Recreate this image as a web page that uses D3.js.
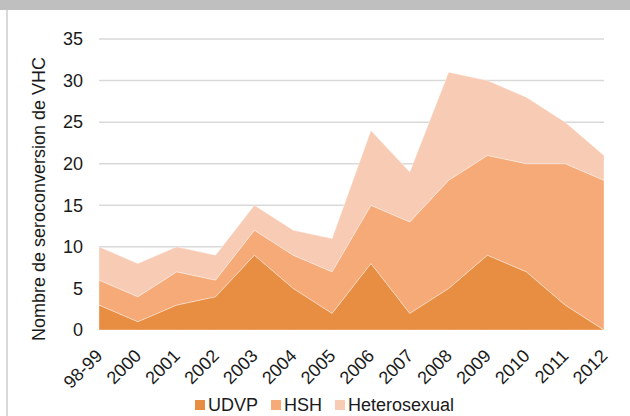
<!DOCTYPE html>
<html>
<head>
<meta charset="utf-8">
<script src="https://cdn.jsdelivr.net/npm/d3@7"></script>
<style>
  html, body { margin: 0; padding: 0; background: #fff; }
  svg { display: block; font-family: "Liberation Sans", Arial, sans-serif; }
</style>
</head>
<body>
<svg id="chart" width="630" height="416"></svg>
<script>
// Séroconversions VHC par mode de transmission
const categories = ["98-99", "2000", "2001", "2002", "2003", "2004", "2005", "2006", "2007", "2008", "2009", "2010", "2011", "2012"];
const udvp   = [3, 1, 3, 4, 9, 5, 2, 8, 2, 5, 9, 7, 3, 0];
const hsh    = [3, 3, 4, 2, 3, 4, 5, 7, 11, 13, 12, 13, 17, 18];
const hetero = [4, 4, 3, 3, 3, 3, 4, 9, 6, 13, 9, 8, 5, 3];
const seriesNames = ["UDVP", "HSH", "Heterosexual"];
const seriesColors = ["#E88E42", "#F6AA78", "#F8CBB5"];
const yTicks = [0, 5, 10, 15, 20, 25, 30, 35];

const svg = d3.select("#chart");
const W = 630, H = 416;
const plot = { left: 99, right: 604, top: 39, bottom: 330 };

// frame: grey band on top, thin rule on the left
svg.append("rect").attr("x", 0).attr("y", 0).attr("width", W).attr("height", 10).attr("fill", "#BFBFBF");
svg.append("rect").attr("x", 6).attr("y", 10).attr("width", 2).attr("height", H - 10).attr("fill", "#D9D9D9");

const x = d3.scalePoint().domain(categories).range([plot.left, plot.right]);
const y = d3.scaleLinear().domain([0, 35]).range([plot.bottom, plot.top]);

// horizontal gridlines
svg.append("g").selectAll("line").data(yTicks.filter(d => d > 0)).join("line")
  .attr("x1", plot.left).attr("x2", plot.right)
  .attr("y1", d => y(d)).attr("y2", d => y(d))
  .attr("stroke", "#D9D9D9").attr("stroke-width", 1.5);

// stacked areas
const rows = categories.map((c, i) => ({ cat: c, UDVP: udvp[i], HSH: hsh[i], Heterosexual: hetero[i] }));
const stacked = d3.stack().keys(seriesNames)(rows);
const area = d3.area()
  .x(d => x(d.data.cat))
  .y0(d => y(d[0]))
  .y1(d => y(d[1]));

svg.append("g").selectAll("path").data(stacked).join("path")
  .attr("d", area)
  .attr("fill", (d, i) => seriesColors[i])
  .attr("stroke", "#ffffff").attr("stroke-opacity", 0.35).attr("stroke-width", 1)
  .attr("stroke-linejoin", "round");

// y axis labels
const yAxis = d3.axisLeft(y).tickValues(yTicks).tickSize(0).tickPadding(16);
const gy = svg.append("g").attr("transform", `translate(${plot.left},0)`).call(yAxis);
gy.select(".domain").remove();
gy.selectAll("text").attr("font-size", 18).attr("fill", "#1a1a1a")
  .attr("font-family", "Liberation Sans, Arial, sans-serif");

// x axis labels, rotated
const xAxis = d3.axisBottom(x).tickSize(0).tickPadding(0);
const gx = svg.append("g").attr("transform", `translate(0,${plot.bottom})`).call(xAxis);
gx.select(".domain").remove();
gx.selectAll("text")
  .attr("font-size", 18).attr("fill", "#1a1a1a")
  .attr("font-family", "Liberation Sans, Arial, sans-serif")
  .attr("text-anchor", "end")
  .attr("dy", null).attr("y", null)
  .attr("transform", "translate(4,27) rotate(-45)");

// y axis title
svg.append("text")
  .attr("transform", "translate(45,199) rotate(-90)")
  .attr("text-anchor", "middle")
  .attr("font-size", 18).attr("fill", "#1a1a1a")
  .text("Nombre de seroconversion de VHC");

// legend
const legend = svg.append("g");
let lx = 195;
seriesNames.forEach((name, i) => {
  const g = legend.append("g").attr("transform", `translate(${lx},0)`);
  g.append("rect").attr("x", 0).attr("y", 400).attr("width", 10).attr("height", 10).attr("fill", seriesColors[i]);
  const t = g.append("text").attr("x", 13).attr("y", 411)
    .attr("font-size", 18).attr("fill", "#1a1a1a").text(name);
  lx += 13 + t.node().getComputedTextLength() + 13;
});
</script>
</body>
</html>
